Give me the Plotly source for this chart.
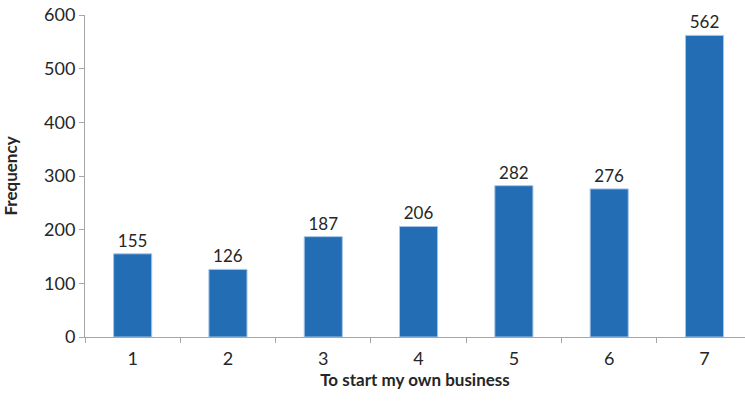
import plotly.graph_objects as go

categories = ["1", "2", "3", "4", "5", "6", "7"]
values = [155, 126, 187, 206, 282, 276, 562]

fig = go.Figure(go.Bar(
    x=categories, y=values, width=0.4,
    marker=dict(color="#236db4", line=dict(color="#a9c6e8", width=1)),
    text=[str(v) for v in values], textposition="outside",
    textfont=dict(size=17, color="#262626"), cliponaxis=False,
))

fig.update_layout(
    width=745, height=404,
    margin=dict(l=85, r=0, t=15, b=67),
    plot_bgcolor="white", paper_bgcolor="white",
    font=dict(family="Lato, Open Sans, sans-serif", size=18, color="#262626"),
    showlegend=False,
)
fig.update_xaxes(
    type="category", range=[-0.5, 6.425], automargin=False,
    tickson="boundaries", ticks="outside", ticklen=5, tickcolor="#a6a6a6",
    ticklabelstandoff=5,
    showline=True, linecolor="#a6a6a6", linewidth=1, showgrid=False,
    title=dict(text="<b>To start my own business</b>", font=dict(size=17), standoff=0),
)
fig.update_yaxes(
    range=[0, 600], dtick=100, ticks="outside", ticklen=5, tickcolor="#a6a6a6",
    showline=True, linecolor="#a6a6a6", linewidth=1, showgrid=False, zeroline=False,
    automargin=False,
    title=dict(text="<b>Frequency</b>", font=dict(size=17), standoff=25),
)
fig.write_html("out.html", config={"displayModeBar": False},
               post_script="document.body.style.margin='0px';")
